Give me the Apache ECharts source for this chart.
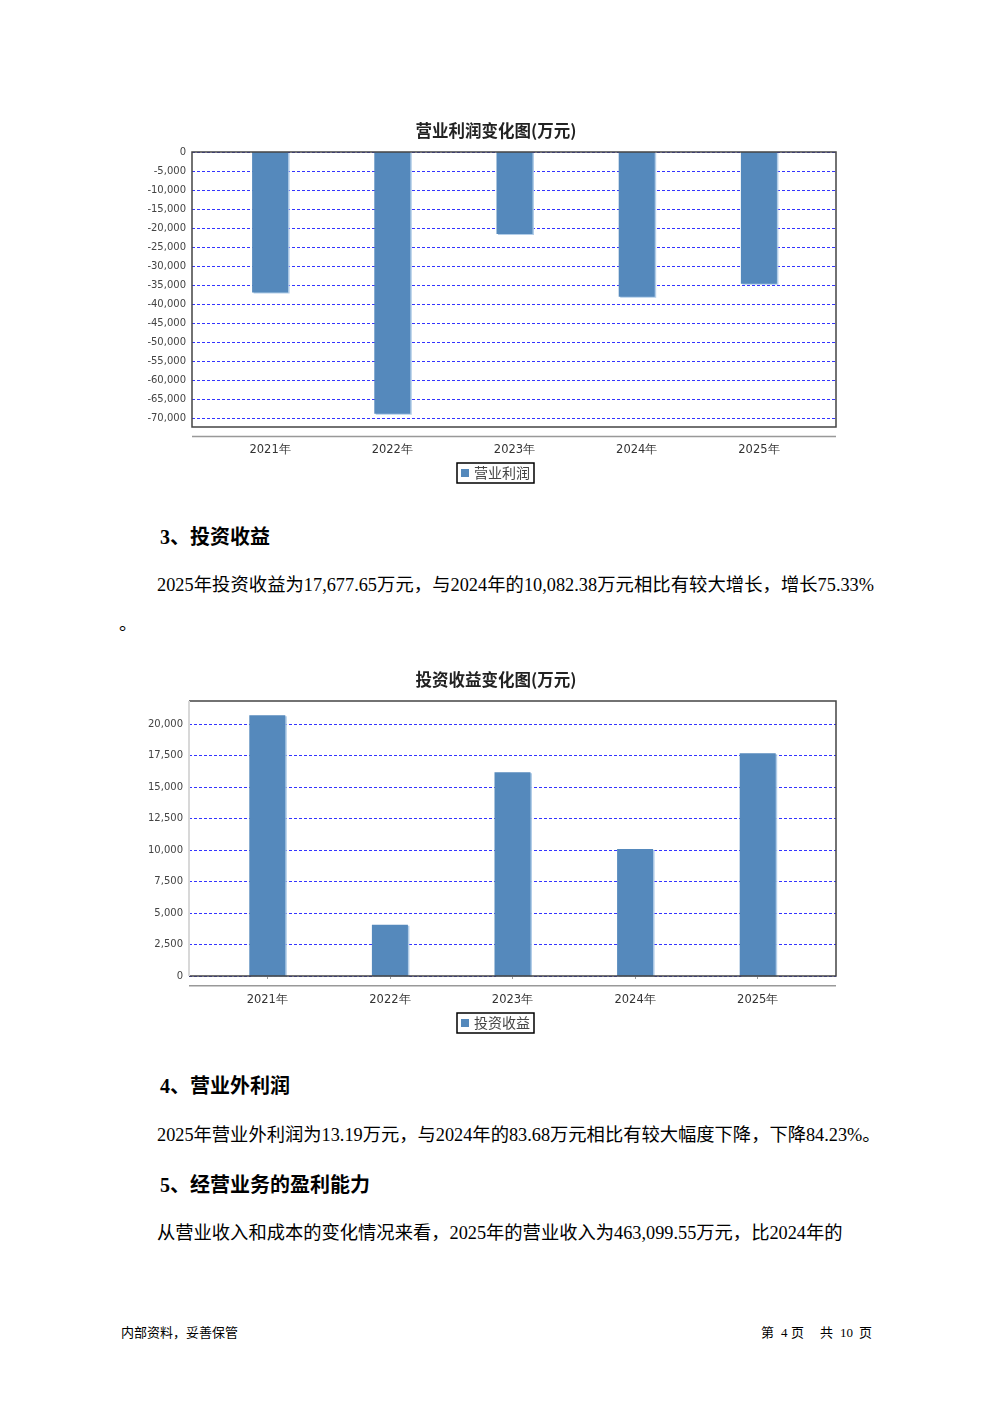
<!DOCTYPE html>
<html>
<head>
<meta charset="utf-8">
<script src="https://cdn.jsdelivr.net/npm/echarts@6/dist/echarts.min.js"></script>
<style>
  html, body { margin: 0; padding: 0; background: #fff; }
  #page { position: relative; width: 992px; height: 1403px; overflow: hidden; background: #fff; }
  .chart { position: absolute; left: 0; width: 992px; height: 400px; }
  .t { position: absolute; white-space: nowrap; color: #000; line-height: 24px;
       font-family: "Liberation Serif", "Noto Sans CJK SC", serif; font-size: 18.3px; }
  .h { font-weight: bold; font-size: 20px; }
  .just { text-align: justify; text-align-last: justify; }
  .f { font-size: 13px; line-height: 18px; }
</style>
</head>
<body>
<div id="page">
  <div id="c1" class="chart" style="top:100px"></div>
  <div class="t h" style="left:160px; top:525px;">3、投资收益</div>
  <div class="t just" style="left:157px; top:573px; width:717px;">2025年投资收益为17,677.65万元，与2024年的10,082.38万元相比有较大增长，增长75.33%</div>
  <div class="t" style="left:119px; top:612px;">。</div>
  <div id="c2" class="chart" style="top:650px"></div>
  <div class="t h" style="left:160px; top:1074px;">4、营业外利润</div>
  <div class="t" style="left:157px; top:1123px;">2025年营业外利润为13.19万元，与2024年的83.68万元相比有较大幅度下降，下降84.23%。</div>
  <div class="t h" style="left:160px; top:1173px;">5、经营业务的盈利能力</div>
  <div class="t" style="left:157px; top:1221px;">从营业收入和成本的变化情况来看，2025年的营业收入为463,099.55万元，比2024年的</div>
  <div class="t f" style="left:121px; top:1324px;">内部资料，妥善保管</div>
  <div class="t f" style="left:761px; top:1324px;">第</div>
  <div class="t f" style="left:781px; top:1324px;">4</div>
  <div class="t f" style="left:791px; top:1324px;">页</div>
  <div class="t f" style="left:820px; top:1324px;">共</div>
  <div class="t f" style="left:840px; top:1324px;">10</div>
  <div class="t f" style="left:859px; top:1324px;">页</div>
</div>
<script>
// ---- data ----
const years = ['2021年', '2022年', '2023年', '2024年', '2025年'];
const operatingProfit = [-37000, -68900, -21600, -38100, -34700];
const investmentIncome = [20700, 4070, 16170, 10082.38, 17677.65];
const title1 = '营业利润变化图(万元)';
const title2 = '投资收益变化图(万元)';
const legend1 = '营业利润';
const legend2 = '投资收益';

const barColor = '#5589BC';
const fmt = v => Number(v).toLocaleString('en-US');

function makeOption(cfg) {
  return {
    animation: false,
    title: {
      text: cfg.title, left: 'center', top: cfg.titleTop,
      textStyle: { fontFamily: 'Noto Sans CJK SC', fontSize: 16.5, fontWeight: 'bold', color: '#222' }
    },
    legend: {
      data: [cfg.legend], left: 457, top: cfg.legendTop,
      padding: [3, 4, 3, 4], borderColor: '#000', borderWidth: 1.5,
      itemWidth: 8, itemHeight: 8, icon: 'rect',
      textStyle: { fontFamily: 'Noto Sans CJK SC', fontSize: 14, color: '#444' }
    },
    grid: [
      // frame grid: carries gridlines + y labels across the whole box
      { left: cfg.frameLeft, right: 992 - 836, top: cfg.gridTop, height: cfg.gridHeight },
      // data grid: category band
      { left: cfg.gridLeft, right: cfg.gridRight, top: cfg.gridTop, height: cfg.gridHeight }
    ],
    xAxis: [
      { type: 'value', gridIndex: 0, show: false, min: 0, max: 1 },
      {
        type: 'category', gridIndex: 1, data: years, position: 'bottom', offset: cfg.xOffset,
        axisLine: { show: false },
        axisTick: { show: true, alignWithLabel: true, length: 3, lineStyle: { color: '#999' } },
        axisLabel: { margin: 8, fontFamily: 'DejaVu Sans', fontSize: 11.5, color: '#333' }
      }
    ],
    yAxis: [
      {
        type: 'value', gridIndex: 0, min: cfg.min, max: cfg.max, interval: cfg.interval,
        axisLine: { show: false }, axisTick: { show: false },
        splitLine: { show: true, lineStyle: { color: '#3434ff', type: [3, 2], width: 1 } },
        axisLabel: { margin: cfg.labelMargin, fontFamily: 'DejaVu Sans', fontSize: 10, color: '#444', formatter: fmt }
      },
      {
        type: 'value', gridIndex: 1, min: cfg.min, max: cfg.max, interval: cfg.interval,
        show: false, splitLine: { show: false }
      }
    ],
    series: [{
      name: cfg.legend, type: 'bar', xAxisIndex: 1, yAxisIndex: 1, data: cfg.data, barWidth: 36, clip: false, z: 5,
      itemStyle: { color: barColor, shadowColor: 'rgba(170,200,230,0.9)', shadowOffsetX: 1.5, shadowOffsetY: 1, shadowBlur: 0 }
    }],
    graphic: cfg.graphic
  };
}

const c1 = echarts.init(document.getElementById('c1'), null, { renderer: 'canvas' });
c1.setOption(makeOption({
  title: title1, titleTop: 17, legend: legend1, legendTop: 363,
  frameLeft: 192, labelMargin: 6,
  gridLeft: 209, gridRight: 172, gridTop: 52, gridHeight: 266, xOffset: 18,
  min: -70000, max: 0, interval: 5000, data: operatingProfit,
  graphic: [
    { type: 'rect', z: 100, shape: { x: 192, y: 52, width: 644, height: 275 },
      style: { fill: 'none', stroke: '#444', lineWidth: 1.5 } },
    { type: 'line', z: 100, shape: { x1: 192, y1: 336.5, x2: 836, y2: 336.5 },
      style: { stroke: '#999', lineWidth: 1.5 } }
  ]
}));

const c2 = echarts.init(document.getElementById('c2'), null, { renderer: 'canvas' });
c2.setOption(makeOption({
  title: title2, titleTop: 16, legend: legend2, legendTop: 363,
  frameLeft: 189, labelMargin: 6,
  gridLeft: 206, gridRight: 173, gridTop: 74, gridHeight: 252, xOffset: 10,
  min: 0, max: 20000, interval: 2500, data: investmentIncome,
  graphic: [
    { type: 'polyline', z: 100, shape: { points: [[189, 51], [836, 51], [836, 326], [189, 326]] },
      style: { fill: 'none', stroke: '#444', lineWidth: 1.5 } },
    { type: 'line', z: 100, shape: { x1: 189, y1: 51, x2: 189, y2: 326 },
      style: { stroke: '#d8d8d8', lineWidth: 2 } },
    { type: 'line', z: 100, shape: { x1: 189, y1: 335.7, x2: 836, y2: 335.7 },
      style: { stroke: '#999', lineWidth: 1.5 } }
  ]
}));
</script>
</body>
</html>
